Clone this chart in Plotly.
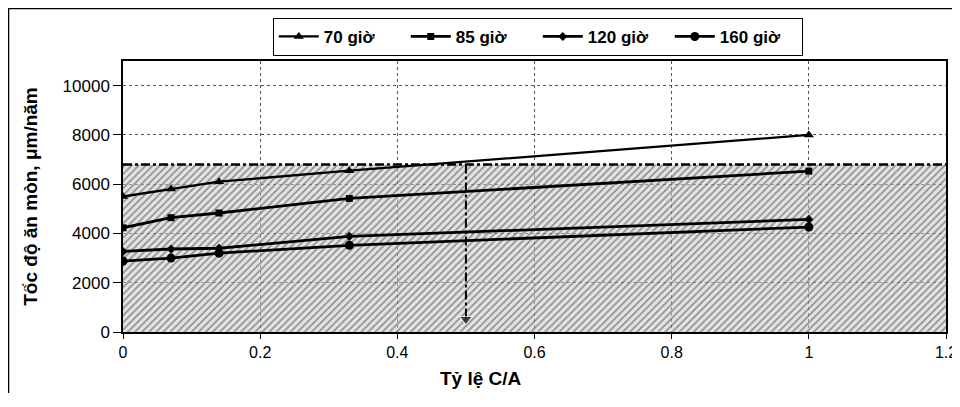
import plotly.graph_objects as go

ratio_ca = [0, 0.07, 0.14, 0.33, 1]
rate_70h = [5500, 5800, 6100, 6550, 8000]
rate_85h = [4230, 4640, 4830, 5420, 6530]
rate_120h = [3270, 3370, 3400, 3880, 4570]
rate_160h = [2880, 3000, 3200, 3520, 4260]
series_names = ["70 giờ", "85 giờ", "120 giờ", "160 giờ"]
limit_x = [0, 1.2]
limit_rate = [6800, 6800]
arrow_x = [0.5, 0.5]
arrow_rate = [6800, 520]
x_ticks = [0, 0.2, 0.4, 0.6, 0.8, 1, 1.2]
x_labels = ["0", "0.2", "0.4", "0.6", "0.8", "1", "1.2"]
y_ticks = [0, 2000, 4000, 6000, 8000, 10000]
x_title = "Tỷ lệ C/A"
y_title = "Tốc độ ăn mòn, μm/năm"

FONT = "Liberation Sans, Arial, sans-serif"
fig = go.Figure()

# hatched zone
fig.add_trace(go.Scatter(
    x=limit_x, y=limit_rate, mode="lines", fill="tozeroy",
    line=dict(color="rgba(0,0,0,0)", width=0),
    fillcolor="rgba(200,200,200,0.35)",
    fillpattern=dict(shape="/", fgcolor="#444444", bgcolor="rgba(205,205,205,0.55)",
                     size=5, solidity=0.35),
    showlegend=False, hoverinfo="skip"))

# threshold dash-dot line
fig.add_trace(go.Scatter(
    x=limit_x, y=limit_rate, mode="lines",
    line=dict(color="black", width=2.5, dash="dashdot"),
    showlegend=False, hoverinfo="skip"))

# vertical arrow
fig.add_trace(go.Scatter(
    x=arrow_x, y=arrow_rate, mode="lines+markers",
    line=dict(color="black", width=2, dash="dashdot"),
    marker=dict(symbol=["circle", "triangle-down"], size=[0, 11], color="black"),
    showlegend=False, hoverinfo="skip"))

styles = [
    (rate_70h, "triangle-up", 9, 2.3),
    (rate_85h, "square", 7, 2.8),
    (rate_120h, "diamond", 7, 2.8),
    (rate_160h, "circle", 9, 2.8),
]
for name, (vals, sym, ms, lw) in zip(series_names, styles):
    fig.add_trace(go.Scatter(
        x=ratio_ca, y=vals, mode="lines+markers", name=name,
        line=dict(color="black", width=lw),
        marker=dict(symbol=sym, size=ms, color="black")))

fig.update_layout(
    width=952, height=385,
    margin=dict(l=115, r=14, t=53, b=61, autoexpand=False),
    paper_bgcolor="white", plot_bgcolor="white",
    font=dict(family=FONT, color="black", size=16),
    legend=dict(orientation="h", x=0.504, xanchor="center", y=1.159, yanchor="top",
                bordercolor="black", borderwidth=1, bgcolor="white",
                font=dict(size=17, family=FONT, weight="bold"),
                itemwidth=40, tracegroupgap=0, entrywidth=77),
    xaxis=dict(range=[0, 1.2], tickvals=x_ticks, ticktext=x_labels,
               showline=True, linecolor="black", linewidth=1.5, mirror=True,
               showgrid=True, gridcolor="#555", griddash="dot", gridwidth=1,
               ticks="outside", ticklen=5, tickcolor="black", zeroline=False,
               tickfont=dict(size=16), ticklabeloverflow="allow"),
    yaxis=dict(range=[0, 11000], tickvals=y_ticks, tickformat="d",
               showline=True, linecolor="black", linewidth=1.5, mirror=True,
               showgrid=True, gridcolor="#555", griddash="dot", gridwidth=1,
               ticks="outside", ticklen=8, tickcolor="black", zeroline=False,
               tickfont=dict(size=17),
               title=dict(text=y_title, font=dict(size=19, family=FONT, weight="bold"), standoff=20)),
    annotations=[dict(text=x_title, xref="paper", yref="paper", x=0.435, y=-0.172,
                      xanchor="center", yanchor="middle", showarrow=False,
                      font=dict(size=19, family=FONT, weight="bold"))],
    shapes=[dict(type="rect", xref="paper", yref="paper",
                 x0=-0.1391, x1=1.2, y0=-0.5, y1=1.1937,
                 line=dict(color="black", width=1.5))],
)

fig.write_html("out.html")
